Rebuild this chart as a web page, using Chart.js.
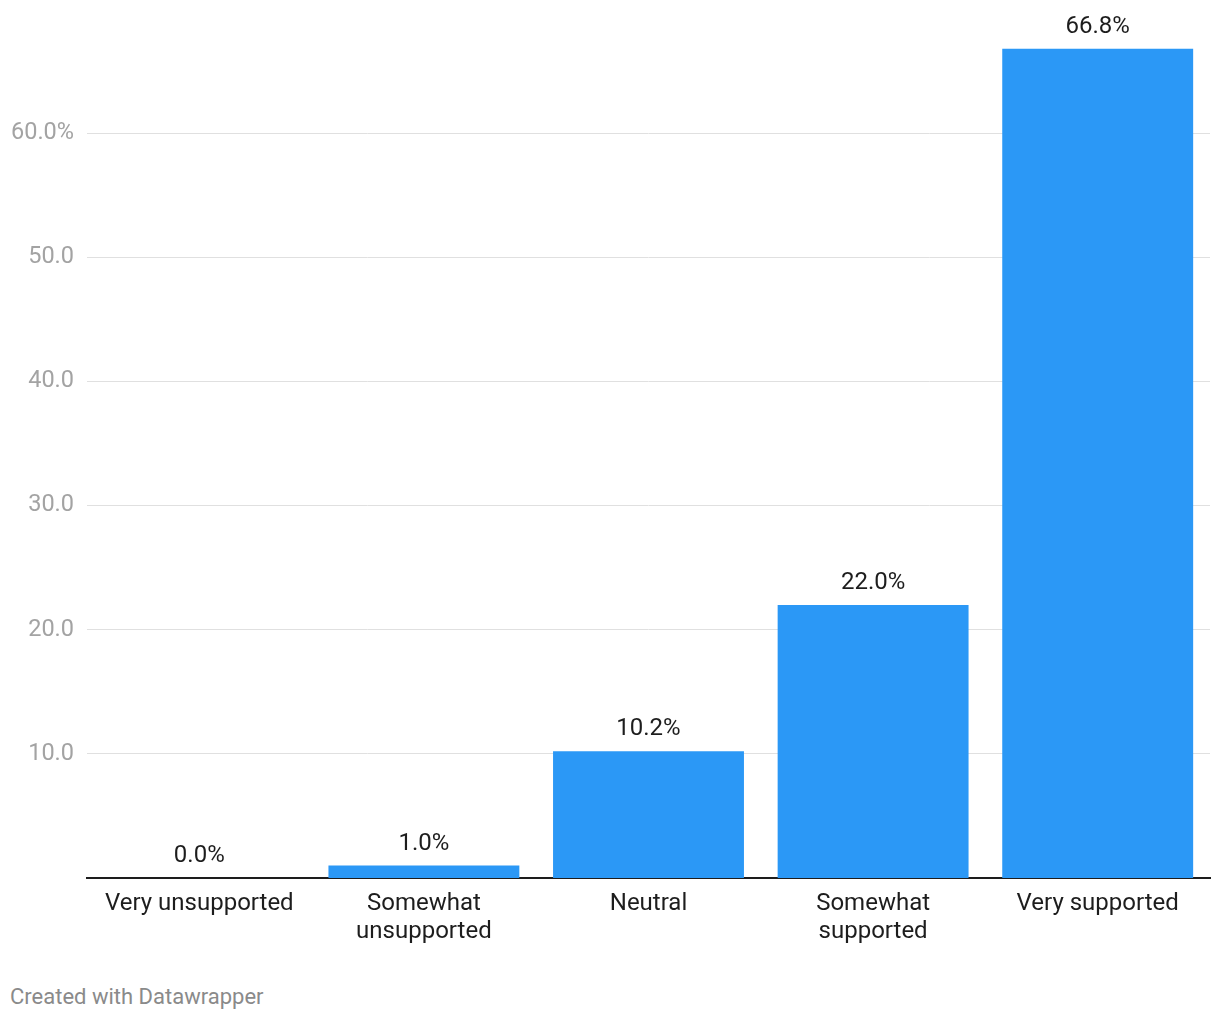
<!DOCTYPE html>
<html>
<head>
<meta charset="utf-8">
<script src="https://cdn.jsdelivr.net/npm/chart.js@4.4.1/dist/chart.umd.min.js"></script>
<style>
  html, body { margin: 0; padding: 0; background: #fff; }
  #wrap { position: relative; width: 1220px; height: 1020px; }
  #c { position: absolute; left: 0; top: 0; }
  #footer { position: absolute; left: 10px; top: 983px; font-family: Roboto, sans-serif; font-size: 22px; line-height: 28px; color: #8a8a8a; }
</style>
</head>
<body>
<div id="wrap">
  <canvas id="c" width="1220" height="980"></canvas>
  <div id="footer">Created with Datawrapper</div>
</div>
<script>
const categories = [["Very unsupported"], ["Somewhat", "unsupported"], ["Neutral"], ["Somewhat", "supported"], ["Very supported"]];
const values = [0.0, 1.0, 10.2, 22.0, 66.8];
const yTicks = [10, 20, 30, 40, 50, 60];
const yTickLabels = ["10.0", "20.0", "30.0", "40.0", "50.0", "60.0%"];

const valueLabels = {
  id: 'valueLabels',
  afterDatasetsDraw(chart) {
    const ctx = chart.ctx;
    const meta = chart.getDatasetMeta(0);
    ctx.save();
    ctx.font = '24px Roboto';
    ctx.fillStyle = '#1d1d1d';
    ctx.textAlign = 'center';
    ctx.textBaseline = 'middle';
    meta.data.forEach((bar, i) => {
      ctx.fillText(values[i].toFixed(1) + '%', bar.x, bar.y - 22);
    });
    ctx.restore();
  }
};

new Chart(document.getElementById('c'), {
  type: 'bar',
  data: {
    labels: categories,
    datasets: [{
      data: values,
      backgroundColor: '#2b98f6',
      barPercentage: 0.85,
      categoryPercentage: 1.0
    }]
  },
  options: {
    responsive: false,
    animation: false,
    devicePixelRatio: 1,
    layout: { padding: { top: 9, right: 10, left: 0, bottom: 0 } },
    plugins: { legend: { display: false }, tooltip: { enabled: false } },
    scales: {
      x: {
        afterFit(scale) { scale.height = 102; scale.paddingLeft = 0; scale.paddingRight = 0; },
        grid: { display: false, drawTicks: false },
        border: { display: true, color: '#1d1d1d', width: 2 },
        ticks: {
          font: { family: 'Roboto', size: 24, lineHeight: 1.1667 },
          color: '#1d1d1d',
          padding: 12,
          maxRotation: 0,
          autoSkip: false
        }
      },
      y: {
        min: 0,
        max: 70,
        afterBuildTicks(scale) { scale.ticks = yTicks.map(v => ({ value: v })); },
        afterFit(scale) { scale.width = 87; scale.paddingTop = 0; scale.paddingBottom = 0; },
        grid: { color: '#e0e0e0', lineWidth: 1, drawTicks: false },
        border: { display: false },
        ticks: {
          font: { family: 'Roboto', size: 23.5 },
          color: '#a3a3a3',
          padding: 13,
          callback: (v) => { const i = yTicks.indexOf(v); return i >= 0 ? yTickLabels[i] : ''; }
        }
      }
    }
  },
  plugins: [valueLabels]
});
</script>
</body>
</html>
